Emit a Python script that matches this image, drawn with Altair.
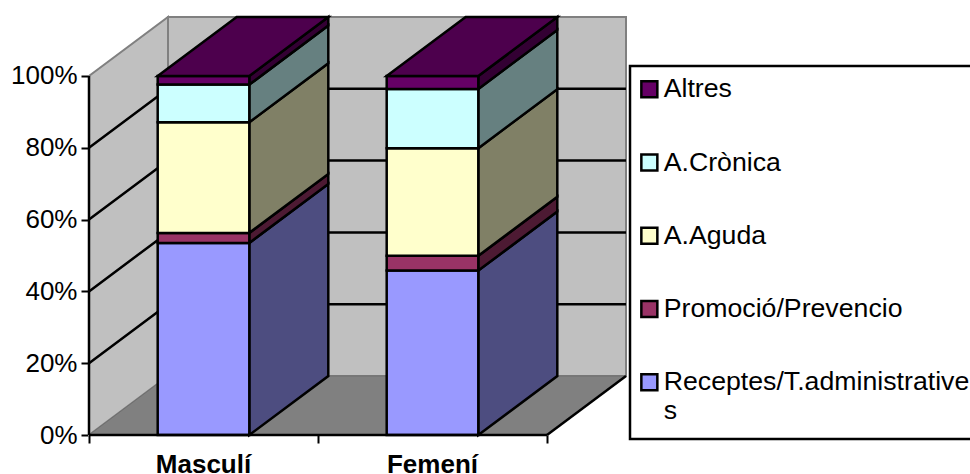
import altair as alt
import pandas as pd

# Stacked shares per sex, bottom series first
categories = ["Masculí", "Femení"]
series = ["Receptes/T.administratives", "Promoció/Prevencio", "A.Aguda", "A.Crònica", "Altres"]
masculi = [53.5, 2.8, 30.8, 10.5, 2.4]
femeni = [45.8, 4.1, 30.0, 16.5, 3.6]
front_colors = ["#9999FF", "#993366", "#FFFFCC", "#CCFFFF", "#660066"]
side_colors = ["#4D4D80", "#4D1A33", "#808066", "#668080", "#330033"]
top_color = "#4D004D"
y_ticks = [0, 20, 40, 60, 80, 100]
x_ticks = [0, 1, 2]

# Oblique projection: depth shifts a point right (category units) and up (percent units)
DX = 0.345
DY = 16.43
BAR_LO, BAR_HI = 0.3, 0.7
X_DOMAIN = [0, 2 + DX]
Y_DOMAIN = [0, 100 + DY]
FONT = "Liberation Sans"
LINE = 2.5

x_scale = alt.Scale(domain=X_DOMAIN, nice=False, zero=False)
y_scale = alt.Scale(domain=Y_DOMAIN, nice=False)

# Vertical-edged faces (walls and bar sides) are areas along x
side_rows, front_rows, top_rows = [], [], []
for c, vals in enumerate([masculi, femeni]):
    base = 0.0
    for s, v in enumerate(vals):
        top = base + v
        xl, xr = c + BAR_LO, c + BAR_HI
        for x, y0, y1 in [(xl, base, top), (xr, base, top)]:
            front_rows.append({"face": f"{c}-{s}", "x": x, "y": y0, "y2": y1, "serie": series[s]})
        for t in (0, 1):
            side_rows.append({"face": f"{c}-{s}", "x": xr + t * DX, "y": base + t * DY,
                              "y2": top + t * DY, "fill": side_colors[s]})
        base = top
    for t in (0, 1):
        top_rows.append({"face": str(c), "y": base + t * DY, "x": c + BAR_LO + t * DX,
                         "x2": c + BAR_HI + t * DX})

side_df = pd.DataFrame(side_rows)
front_df = pd.DataFrame(front_rows)
top_df = pd.DataFrame(top_rows)

left_wall = pd.DataFrame({"x": [0, DX], "y": [0, DY], "y2": [100, 100 + DY]})
back_wall = pd.DataFrame({"x": [DX, 2 + DX], "y": [DY, DY], "y2": [100 + DY, 100 + DY]})
floor = pd.DataFrame({"y": [0, DY], "x": [0, DX], "x2": [2, 2 + DX]})

grid_rows = []
for v in y_ticks[1:-1]:
    for i, (x, y) in enumerate([(0, v), (DX, v + DY), (2 + DX, v + DY)]):
        grid_rows.append({"line": v, "i": i, "x": x, "y": y})
grid_df = pd.DataFrame(grid_rows)

# Both axes live on the shared positional channels; only the tick marks show,
# the baselines are drawn as rules because the range runs past 100% and past the second category
X = alt.X("x:Q", scale=x_scale, axis=alt.Axis(
    values=x_ticks, title=None, domain=False, grid=False, tickSize=8, tickWidth=2,
    tickColor="black", labels=False,
))
Y = alt.Y("y:Q", scale=y_scale, axis=alt.Axis(
    values=y_ticks, title=None, domain=False, grid=False, tickSize=8, tickWidth=2,
    tickColor="black", labelFont=FONT, labelFontSize=26, labelColor="black",
    labelPadding=4, labelExpr="datum.value + '%'",
))

wall_style = dict(fill="#C0C0C0", stroke="#808080", strokeWidth=2)
walls = alt.layer(
    alt.Chart(left_wall).mark_area(**wall_style).encode(X, Y, y2="y2:Q"),
    alt.Chart(back_wall).mark_area(**wall_style).encode(X, Y, y2="y2:Q"),
)
floor_layer = alt.Chart(floor).mark_area(
    orient="horizontal", fill="#808080", stroke="#6E6E6E", strokeWidth=1
).encode(X, Y, x2="x2:Q")
floor_edge = alt.Chart(pd.DataFrame({"x": [2, 2 + DX], "y": [0, DY]})).mark_line(
    color="black", strokeWidth=LINE
).encode(X, Y)

grid = alt.Chart(grid_df).mark_line(color="black", strokeWidth=LINE).encode(
    X, Y, detail="line:N", order="i:Q"
)

sides = alt.Chart(side_df).mark_area(stroke="black", strokeWidth=LINE).encode(
    X, Y, y2="y2:Q", detail="face:N", fill=alt.Fill("fill:N", scale=None)
)
tops = alt.Chart(top_df).mark_area(
    orient="horizontal", fill=top_color, stroke="black", strokeWidth=LINE
).encode(X, Y, x2="x2:Q", detail="face:N")

fronts = alt.Chart(front_df).mark_area(stroke="black", strokeWidth=LINE, opacity=1).encode(
    X, Y, y2="y2:Q", detail="face:N",
    fill=alt.Fill(
        "serie:N",
        scale=alt.Scale(domain=series[::-1], range=front_colors[::-1]),
        sort=series[::-1],
        legend=alt.Legend(
            title=" ",
            titleOrient="bottom",
            titleFontSize=1,
            titlePadding=3,
            orient="none",
            legendX=541,
            legendY=49,
            direction="vertical",
            fillColor="white",
            strokeColor="black",
            padding=10,
            symbolType="square",
            symbolSize=256,
            symbolOffset=-4,
            symbolStrokeColor="black",
            symbolStrokeWidth=2.5,
            labelFont=FONT,
            labelFontSize=26.7,
            labelColor="black",
            labelLimit=400,
            labelOffset=1,
            rowPadding=45.2,
            labelExpr="datum.label === 'Receptes/T.administratives' ? "
                      "['Receptes/T.administrative', 's'] : datum.label",
        ),
    ),
)

y_line = alt.Chart(pd.DataFrame({"x": [0], "y": [0], "y2": [100]})).mark_rule(
    color="black", strokeWidth=LINE
).encode(X, Y, y2="y2:Q")
x_line = alt.Chart(pd.DataFrame({"x": [0], "x2": [2], "y": [0]})).mark_rule(
    color="black", strokeWidth=LINE
).encode(X, Y, x2="x2:Q")

cat_labels = alt.Chart(pd.DataFrame({"x": [0.5, 1.5], "y": [0, 0], "t": categories})).mark_text(
    font=FONT, fontSize=26, fontWeight="bold", color="black", baseline="alphabetic",
    dy=38, align="center",
).encode(X, Y, text="t:N")

chart = alt.layer(
    walls, floor_layer, floor_edge, grid, sides, fronts, tops, y_line, x_line, cat_labels
).resolve_scale(fill="independent").properties(
    width=537,
    height=418,
    padding={"left": 89, "top": 17, "right": 344, "bottom": 39},
    autosize=alt.AutoSizeParams(type="none"),
    background="white",
).configure_view(stroke=None).configure_legend(strokeWidth=2.5)

chart.save("out.html", embed_options={"renderer": "svg", "actions": False})
